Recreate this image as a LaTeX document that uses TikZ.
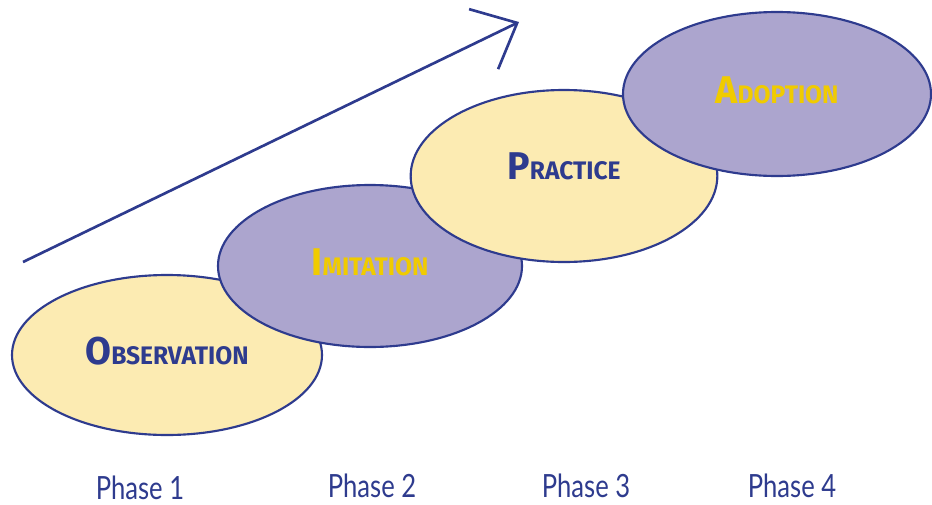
\documentclass[tikz,border=0pt]{standalone}
\usepackage{fontspec}
\usepackage{graphicx}
\usetikzlibrary{shapes.geometric,arrows.meta}
\newfontfamily\stagefont{Fira Sans}
\newfontfamily\phasefont{Lato}
\definecolor{inkblue}{HTML}{2E3B8E}
\definecolor{paleyellow}{HTML}{FCEBB2}
\definecolor{lilac}{HTML}{ACA5CE}
\definecolor{gold}{HTML}{F0CB00}
% big first letter, the rest in smaller capitals
\newcommand{\stagename}[2]{\scalebox{0.97}[1]{\stagefont\bfseries{\fontsize{29}{29}\selectfont #1}{\fontsize{19}{19}\selectfont #2}}}
\newcommand{\phasename}[1]{\scalebox{0.8}[1]{\phasefont\fontsize{24}{24}\selectfont #1}}

\begin{document}
\begin{tikzpicture}[x=0.75pt,y=0.75pt,yscale=-1,xscale=1,
  stage/.style={ellipse,draw=inkblue,line width=1.6pt,inner sep=0pt,text depth=6pt},
  yellowstage/.style={stage,fill=paleyellow,text=inkblue},
  lilacstage/.style={stage,fill=lilac,text=gold},
  phase/.style={anchor=base,inner sep=0pt,text=inkblue}]
\path[use as bounding box] (0,0) rectangle (932,504);

%Arrow
\coordinate (start) at (23,262);
\coordinate (tip) at (519,22);
\draw[inkblue,line width=2pt,-{Straight Barb[length=28pt,width=50pt]}] (start) -- (tip);

%Ellipses, each one over the one before
\node[yellowstage,minimum width=232.5pt,minimum height=120pt] (observation) at (167,355) {\stagename{O}{BSERVATION}};
\node[lilacstage,minimum width=228pt,minimum height=121.5pt] (imitation) at (370,266) {\stagename{I}{MITATION}};
\node[yellowstage,minimum width=230pt,minimum height=129pt,text depth=15pt] (practice) at (564,176) {\stagename{P}{RACTICE}};
\node[lilacstage,minimum width=231pt,minimum height=123pt] (adoption) at (777,94) {\stagename{A}{DOPTION}};

% Text Node
\node[phase] (phase1) at (140,499) {\phasename{Phase 1}};
% Text Node
\node[phase] (phase2) at (372,497) {\phasename{Phase 2}};
% Text Node
\node[phase] (phase3) at (586,497) {\phasename{Phase 3}};
% Text Node
\node[phase] (phase4) at (792,497) {\phasename{Phase 4}};

\end{tikzpicture}
\end{document}
